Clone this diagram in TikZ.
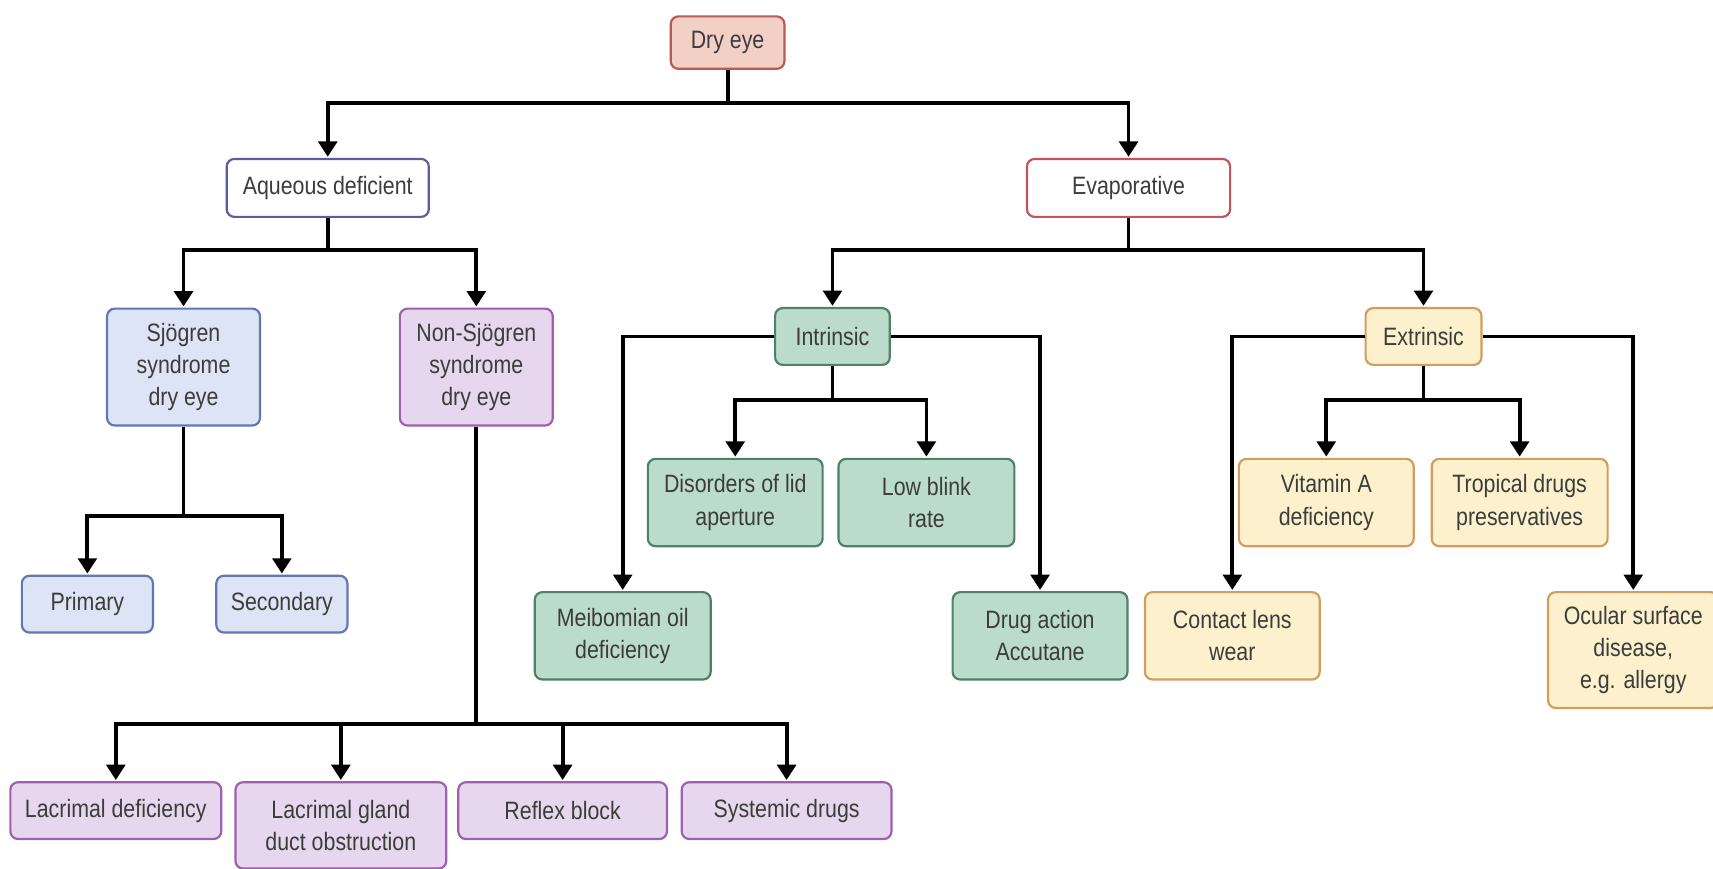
\documentclass[tikz,border=0pt]{standalone}
\usepackage{fontspec}
\setmainfont{Liberation Sans}[FakeStretch=0.85]
\usepackage{tikz}
\usetikzlibrary{arrows.meta,positioning}

\definecolor{txtgray}{HTML}{3C3C3C}
\definecolor{rootfill}{HTML}{F3D0C5}
\definecolor{rootdraw}{HTML}{B55A55}
\definecolor{aqdraw}{HTML}{5E5C9A}
\definecolor{evdraw}{HTML}{C4535E}
\definecolor{sjofill}{HTML}{DCE4F5}
\definecolor{sjodraw}{HTML}{6477B5}
\definecolor{nsjfill}{HTML}{E6D7EE}
\definecolor{nsjdraw}{HTML}{9E5FAE}
\definecolor{intfill}{HTML}{BBDCCC}
\definecolor{intdraw}{HTML}{4F8068}
\definecolor{extfill}{HTML}{FCF1CC}
\definecolor{extdraw}{HTML}{D29D5F}

\tikzset{
  box/.style={draw, rounded corners=7pt, line width=2pt, align=center, inner sep=2pt,
    text=txtgray, font=\fontsize{23}{29.5}\selectfont},
  rootbox/.style={box, draw=rootdraw, fill=rootfill},
  aqbox/.style={box, draw=aqdraw, fill=white},
  evbox/.style={box, draw=evdraw, fill=white},
  sjobox/.style={box, draw=sjodraw, fill=sjofill},
  nsjbox/.style={box, draw=nsjdraw, fill=nsjfill},
  intbox/.style={box, draw=intdraw, fill=intfill},
  extbox/.style={box, draw=extdraw, fill=extfill},
  arr/.style={line width=3.5pt, -{Triangle[width=17pt,length=14pt]}, shorten >=1pt},
  bus/.style={to path={-- ++(0,#1) -| (\tikztotarget)}},
  elbow/.style={to path={-| (\tikztotarget)}}
}

\begin{document}
\begin{tikzpicture}[x=1pt, y=-1pt, on grid]
   \useasboundingbox (0,0) rectangle (1568,795);
   % top levels
   \node[rootbox, minimum width=104pt, minimum height=48pt] (dry) at (666,39) {Dry eye};
   \node[aqbox, minimum width=185pt, minimum height=53pt] (aq) [below left = 133pt and 366pt of dry] {Aqueous deficient};
   \node[evbox, minimum width=186pt, minimum height=53pt] (evap) [below right = 133pt and 367pt of dry] {Evaporative};
   % aqueous deficient branch
   \node[sjobox, minimum width=140pt, minimum height=107pt] (sjo) [below left = 164pt and 132pt of aq] {Sjögren\\syndrome\\dry eye};
   \node[nsjbox, minimum width=140pt, minimum height=107pt] (nsjo) [below right = 164pt and 136pt of aq] {Non-Sjögren\\syndrome\\dry eye};
   \node[sjobox, minimum width=120pt, minimum height=52pt] (prim) [below left = 217pt and 88pt of sjo] {Primary};
   \node[sjobox, minimum width=120pt, minimum height=52pt] (sec) [below right = 217pt and 90pt of sjo] {Secondary};
   \node[nsjbox, minimum width=193pt, minimum height=52pt] (lacdef) [below left = 406pt and 330pt of nsjo] {Lacrimal deficiency};
   \node[nsjbox, minimum width=193pt, minimum height=79pt] (lacgland) [below left = 419.5pt and 124pt of nsjo] {Lacrimal gland\\duct obstruction};
   \node[nsjbox, minimum width=191pt, minimum height=52pt] (reflex) [right = 409pt of lacdef] {Reflex block};
   \node[nsjbox, minimum width=192pt, minimum height=52pt] (sysdrug) [right = 205pt of reflex] {Systemic drugs};
   % evaporative branch
   \node[intbox, minimum width=105pt, minimum height=52pt] (intr) [below left = 136pt and 271pt of evap] {Intrinsic};
   \node[extbox, minimum width=106pt, minimum height=52pt] (extr) [below right = 136pt and 270pt of evap] {Extrinsic};
   \node[intbox, minimum width=160pt, minimum height=80pt] (lid) [below left = 152pt and 89pt of intr] {Disorders of lid\\aperture};
   \node[intbox, minimum width=161pt, minimum height=80pt] (blink) [below right = 152pt and 86pt of intr] {Low blink\\rate};
   \node[intbox, minimum width=161pt, minimum height=80pt] (meib) [below left = 274pt and 192pt of intr] {Meibomian oil\\deficiency};
   \node[intbox, minimum width=160pt, minimum height=80pt] (drug) [below right = 274pt and 190pt of intr] {Drug action\\Accutane};
   \node[extbox, minimum width=160pt, minimum height=80pt] (vita) [below left = 152pt and 89pt of extr] {Vitamin A\\deficiency};
   \node[extbox, minimum width=161pt, minimum height=80pt] (trop) [below right = 152pt and 88pt of extr] {Tropical drugs\\preservatives};
   \node[extbox, minimum width=160pt, minimum height=80pt] (lens) [below left = 274pt and 175pt of extr] {Contact lens\\wear};
   \node[extbox, minimum width=156pt, minimum height=106pt] (ocular) [below right = 287pt and 192pt of extr] {Ocular surface\\disease,\\e.g. allergy};
   \path[arr]
    (dry.south) edge[bus=30] (aq)
                edge[bus=30] (evap)
    (aq.south) edge[bus=29] (sjo)
               edge[bus=29] (nsjo)
    (sjo.south) edge[bus=82] (prim)
                edge[bus=82] (sec)
    (nsjo.south) edge[bus=272] (lacdef)
                 edge[bus=272] (lacgland)
                 edge[bus=272] (reflex)
                 edge[bus=272] (sysdrug)
    (evap.south) edge[bus=29] (intr)
                 edge[bus=29] (extr)
    (intr.south) edge[bus=31] (lid)
                 edge[bus=31] (blink)
    (intr.west) edge[elbow] (meib)
    (intr.east) edge[elbow] (drug)
    (extr.south) edge[bus=31] (vita)
                 edge[bus=31] (trop)
    (extr.west) edge[elbow] (lens)
    (extr.east) edge[elbow] (ocular);
\end{tikzpicture}
\end{document}
